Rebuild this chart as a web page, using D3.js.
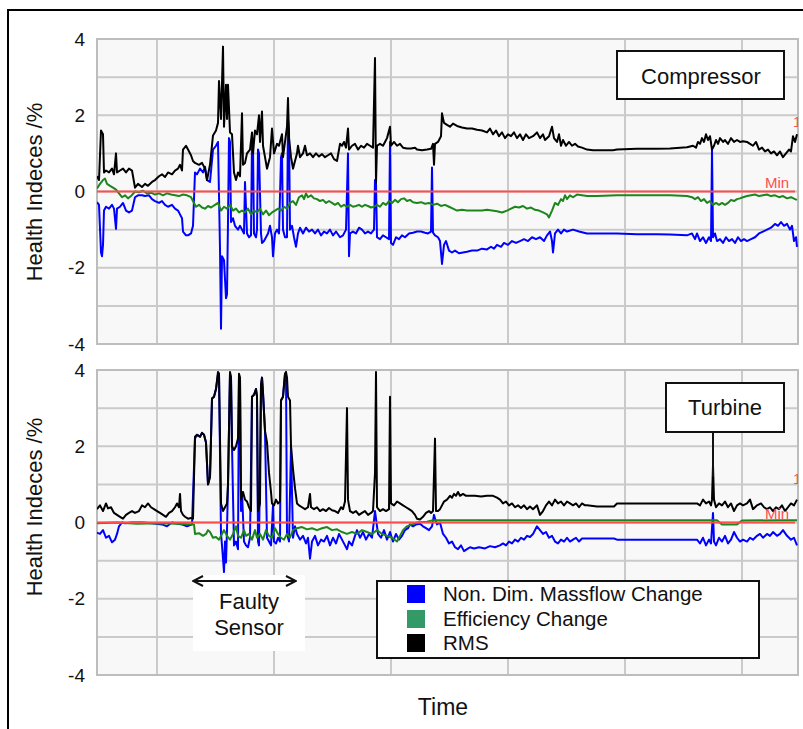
<!DOCTYPE html>
<html><head><meta charset="utf-8">
<script src="https://cdn.jsdelivr.net/npm/d3@7"></script>
<style>
html,body{margin:0;padding:0;background:#fff;}
svg{display:block;font-family:"Liberation Sans",Arial,sans-serif;}
</style></head>
<body><svg id="c" width="803" height="729"></svg>
<script>
// ---- data: [time sample, health index %] ----
const yTickValues = [-4, -2, 0, 2, 4];
const yGridValues = [-4, -3, -2, -1, 0, 1, 2, 3, 4];
const timeGrid = [60, 177, 294, 411, 528, 645];
const timeDomain = [0, 701];
const legendLabels = ["Non. Dim. Massflow Change", "Efficiency Change", "RMS"];
const panelTitles = ["Compressor", "Turbine"];

const compressorRMS = [[0,0.4],[2,0.3],[4,1.6],[5,1.55],[6,1.5],[7,0.5],[9,0.55],[12,0.5],[15,0.6],[17,0.45],[19,1.0],[20,0.5],[23,0.55],[26,0.6],[29,0.5],[32,0.6],[35,0.55],[38,0.1],[41,0.2],[45,0.12],[48,0.2],[51,0.15],[55,0.25],[58,0.3],[62,0.4],[65,0.45],[68,0.38],[71,0.5],[75,0.45],[78,0.55],[81,0.6],[83,0.7],[85,0.55],[86,1.1],[89,1.2],[91,1.1],[94,0.95],[96,0.8],[98,0.75],[102,0.7],[105,0.75],[108,0.6],[110,0.3],[113,0.7],[116,1.47],[119,1.6],[121,1.8],[122,2.9],[124,1.9],[126,3.8],[127,1.7],[129,2.8],[130,1.9],[131,2.8],[133,1.55],[135,1.5],[137,0.5],[139,0.3],[141,0.5],[143,0.4],[145,2.05],[146,0.7],[148,0.75],[150,1.0],[153,1.1],[155,1.55],[156,1.0],[158,1.6],[160,1.5],[162,2.0],[163,1.3],[165,2.1],[166,1.2],[168,0.9],[170,0.6],[173,0.9],[175,1.65],[177,1.0],[180,1.25],[182,1.2],[185,1.5],[186,0.9],[188,1.3],[190,1.7],[191,2.45],[192,1.4],[194,0.9],[196,0.6],[198,0.8],[200,1.0],[201,1.2],[203,0.9],[206,1.0],[208,1.2],[210,0.95],[213,1.0],[216,0.9],[219,1.0],[222,0.92],[225,0.98],[228,0.9],[231,0.95],[234,1.0],[237,0.85],[240,0.8],[243,1.25],[245,1.2],[247,1.3],[249,1.15],[251,1.65],[252,1.1],[255,1.2],[258,1.25],[261,1.1],[264,1.2],[267,1.15],[270,1.25],[273,1.2],[276,1.15],[278,3.5],[279,0.23],[280,1.2],[283,1.25],[286,1.2],[288,1.3],[290,1.4],[293,1.7],[294,1.2],[297,1.3],[300,1.2],[303,1.25],[306,1.15],[310,1.13],[314,1.13],[318,1.15],[320,1.1],[325,1.08],[330,1.1],[334,1.12],[336,1.25],[337,0.7],[338,1.25],[341,1.3],[344,1.45],[345,2.05],[347,1.8],[350,1.75],[353,1.7],[356,1.78],[360,1.72],[365,1.68],[370,1.65],[375,1.65],[380,1.62],[385,1.6],[390,1.55],[393,1.65],[396,1.5],[399,1.6],[402,1.45],[405,1.55],[408,1.4],[411,1.5],[414,1.45],[417,1.55],[420,1.4],[423,1.5],[426,1.35],[429,1.5],[432,1.4],[436,1.45],[440,1.55],[443,1.4],[446,1.5],[448,1.35],[452,1.45],[455,1.7],[457,1.4],[460,1.3],[462,1.5],[464,1.2],[466,1.35],[469,1.2],[472,1.3],[475,1.2],[478,1.25],[481,1.18],[485,1.15],[490,1.1],[496,1.08],[505,1.08],[516,1.08],[520,1.1],[540,1.12],[560,1.12],[573,1.13],[590,1.16],[596,1.2],[599,1.15],[601,1.3],[603,1.25],[605,1.4],[607,1.3],[609,1.5],[611,1.35],[613,1.45],[615,1.1],[617,1.2],[619,1.35],[621,1.25],[623,1.4],[626,1.3],[628,1.35],[631,1.25],[634,1.4],[637,1.3],[640,1.35],[643,1.3],[646,1.32],[650,1.3],[653,1.25],[656,1.2],[659,1.3],[662,1.1],[665,1.15],[668,1.05],[671,1.1],[674,1.0],[677,1.05],[680,0.95],[683,1.05],[686,0.9],[689,1.0],[692,1.1],[694,1.05],[696,1.45],[698,1.3],[700,1.5]];

const compressorMassflow = [[0,-0.28],[2,-0.35],[4,-1.6],[5,-1.7],[6,-1.4],[7,-0.5],[9,-0.4],[12,-0.45],[15,-0.35],[17,-0.45],[19,-0.98],[20,-0.45],[23,-0.4],[26,-0.3],[29,-0.5],[32,-0.55],[35,-0.5],[38,-0.15],[41,-0.1],[45,-0.1],[48,-0.12],[52,-0.1],[55,-0.2],[58,-0.25],[62,-0.3],[65,-0.25],[68,-0.35],[71,-0.4],[75,-0.35],[78,-0.45],[81,-0.5],[83,-0.6],[85,-0.7],[86,-1.05],[89,-1.15],[91,-1.15],[94,-1.1],[96,-0.9],[98,0.5],[100,0.45],[103,0.6],[106,0.5],[108,0.65],[110,0.3],[113,0.25],[116,1.1],[119,1.2],[121,1.3],[123,-1.5],[124,-3.6],[125,-1.7],[127,-1.8],[129,-2.8],[130,-2.7],[131,-0.8],[132,1.4],[133,1.3],[134,-0.8],[136,-0.7],[138,-0.9],[141,-1.0],[143,-0.9],[145,-1.0],[147,-1.1],[148,0.25],[150,-1.1],[152,-1.2],[154,-1.15],[155,1.3],[156,1.2],[157,-1.1],[159,-1.2],[160,-1.0],[161,1.1],[162,1.0],[164,-1.1],[165,-1.35],[167,-1.3],[169,-1.2],[171,-1.1],[173,-0.9],[175,-1.2],[176,-1.7],[178,-1.1],[180,-1.0],[182,-1.1],[184,0.9],[185,1.0],[186,-1.0],[188,-1.2],[190,-1.2],[191,1.9],[192,1.6],[193,-1.0],[195,-0.9],[197,-1.2],[199,-1.45],[201,-1.1],[203,-0.95],[206,-1.1],[209,-0.95],[212,-1.05],[215,-1.0],[218,-1.1],[221,-1.0],[224,-1.15],[227,-1.05],[230,-1.1],[233,-1.0],[236,-1.15],[239,-1.05],[243,-1.2],[246,-1.15],[249,-1.0],[251,1.0],[252,-1.7],[253,-1.1],[256,-1.05],[259,-1.1],[262,-0.95],[265,-1.0],[268,-1.1],[271,-1.05],[274,-1.1],[277,-1.0],[278,0.3],[279,0.2],[280,-1.2],[283,-1.25],[286,-1.15],[289,-1.2],[292,-1.25],[293,1.3],[294,-1.35],[296,-1.4],[299,-1.2],[302,-1.25],[305,-1.15],[308,-1.2],[312,-1.1],[316,-1.08],[320,-1.05],[324,-1.05],[328,-1.08],[331,-1.1],[334,-1.05],[335,0.63],[336,-1.08],[338,-1.15],[341,-1.2],[343,-1.3],[345,-1.9],[347,-1.4],[349,-1.3],[352,-1.55],[355,-1.6],[358,-1.55],[362,-1.62],[366,-1.6],[370,-1.58],[375,-1.55],[380,-1.55],[385,-1.5],[390,-1.52],[394,-1.45],[397,-1.5],[400,-1.4],[404,-1.45],[407,-1.35],[411,-1.4],[415,-1.3],[419,-1.35],[423,-1.3],[427,-1.25],[431,-1.3],[435,-1.2],[439,-1.25],[443,-1.2],[447,-1.3],[450,-1.15],[453,-1.05],[455,-1.3],[456,-1.6],[458,-1.1],[461,-1.0],[464,-1.1],[467,-1.0],[470,-1.05],[476,-1.0],[482,-1.05],[490,-1.1],[500,-1.1],[520,-1.1],[540,-1.12],[560,-1.12],[573,-1.13],[590,-1.15],[595,-1.1],[598,-1.25],[600,-1.1],[603,-1.3],[606,-1.2],[609,-1.35],[612,-1.2],[614,-1.3],[615,1.08],[616,-1.2],[618,-1.1],[620,-1.3],[623,-1.25],[626,-1.35],[629,-1.2],[632,-1.3],[635,-1.25],[638,-1.35],[641,-1.2],[644,-1.3],[647,-1.25],[650,-1.3],[654,-1.25],[658,-1.2],[662,-1.1],[666,-1.05],[670,-1.0],[674,-0.95],[678,-0.85],[681,-0.9],[684,-0.8],[687,-0.9],[690,-0.85],[693,-1.0],[695,-0.9],[697,-1.3],[699,-1.2],[700,-1.45]];

const compressorEfficiency = [[0,0.08],[3,0.2],[6,0.3],[8,0.34],[10,0.2],[13,0.15],[16,0.1],[19,0.05],[22,-0.05],[25,-0.15],[28,-0.1],[31,-0.18],[34,-0.12],[38,0.0],[42,-0.02],[46,0.02],[50,-0.05],[54,-0.03],[58,-0.08],[62,-0.05],[66,-0.1],[70,-0.05],[74,-0.08],[78,-0.1],[82,-0.12],[86,-0.08],[90,-0.1],[94,-0.15],[97,-0.3],[99,-0.4],[102,-0.35],[105,-0.42],[108,-0.45],[111,-0.38],[114,-0.42],[118,-0.35],[121,-0.3],[124,-0.5],[127,-0.4],[130,-0.45],[133,-0.35],[136,-0.5],[139,-0.45],[142,-0.55],[145,-0.5],[148,-0.55],[151,-0.45],[154,-0.6],[157,-0.5],[160,-0.55],[163,-0.45],[166,-0.6],[169,-0.5],[172,-0.62],[175,-0.55],[178,-0.5],[181,-0.45],[184,-0.5],[187,-0.4],[190,-0.45],[193,-0.3],[196,-0.25],[199,-0.35],[202,-0.15],[205,-0.1],[207,-0.2],[209,-0.05],[211,-0.15],[214,-0.1],[217,-0.18],[220,-0.2],[223,-0.25],[226,-0.22],[229,-0.3],[232,-0.25],[235,-0.3],[238,-0.35],[241,-0.3],[244,-0.4],[247,-0.35],[250,-0.4],[253,-0.35],[256,-0.4],[259,-0.38],[262,-0.35],[265,-0.4],[268,-0.35],[271,-0.38],[274,-0.42],[277,-0.4],[280,-0.35],[283,-0.4],[286,-0.3],[289,-0.35],[292,-0.25],[295,-0.3],[298,-0.22],[301,-0.28],[304,-0.2],[307,-0.18],[310,-0.25],[313,-0.22],[316,-0.28],[320,-0.3],[324,-0.28],[328,-0.32],[332,-0.3],[336,-0.35],[340,-0.32],[344,-0.38],[348,-0.35],[352,-0.4],[356,-0.45],[360,-0.5],[365,-0.48],[370,-0.5],[375,-0.5],[380,-0.5],[385,-0.5],[390,-0.48],[395,-0.5],[400,-0.52],[405,-0.55],[410,-0.5],[414,-0.45],[418,-0.4],[422,-0.42],[426,-0.38],[430,-0.45],[434,-0.42],[438,-0.48],[442,-0.5],[446,-0.55],[450,-0.6],[452,-0.68],[455,-0.5],[458,-0.3],[461,-0.35],[464,-0.2],[466,-0.25],[468,-0.1],[470,-0.2],[473,-0.1],[476,-0.15],[480,-0.08],[485,-0.1],[490,-0.12],[500,-0.12],[520,-0.1],[540,-0.1],[560,-0.1],[573,-0.1],[590,-0.12],[595,-0.15],[598,-0.2],[601,-0.15],[604,-0.25],[607,-0.2],[610,-0.3],[613,-0.25],[616,-0.35],[619,-0.3],[622,-0.35],[625,-0.3],[628,-0.35],[631,-0.3],[634,-0.22],[637,-0.25],[640,-0.2],[643,-0.18],[646,-0.15],[650,-0.12],[654,-0.1],[658,-0.08],[662,-0.12],[666,-0.1],[670,-0.08],[674,-0.12],[678,-0.1],[682,-0.15],[686,-0.12],[690,-0.18],[694,-0.15],[698,-0.2],[700,-0.22]];

const turbineRMS = [[0,0.35],[3,0.45],[6,0.3],[9,0.5],[11,0.37],[14,0.4],[17,0.25],[20,0.2],[23,0.15],[26,0.1],[29,0.2],[32,0.25],[35,0.3],[38,0.25],[42,0.3],[45,0.45],[48,0.4],[51,0.5],[54,0.4],[57,0.35],[60,0.3],[63,0.25],[66,0.2],[69,0.15],[72,0.25],[75,0.3],[78,0.4],[80,0.5],[82,0.4],[83,0.75],[84,0.3],[86,0.2],[88,0.15],[91,0.1],[94,0.12],[96,0.1],[98,2.25],[100,2.3],[103,2.25],[105,2.35],[107,2.3],[109,2.1],[111,1.0],[113,1.2],[114,2.2],[115,3.25],[117,3.3],[119,3.5],[121,3.95],[122,3.9],[124,0.5],[126,0.3],[128,0.4],[130,0.5],[131,1.0],[133,3.95],[134,3.8],[135,2.0],[137,1.9],[139,2.0],[141,2.2],[142,3.9],[143,3.8],[144,0.6],[146,0.8],[148,0.6],[150,0.55],[152,0.4],[154,0.3],[155,3.3],[157,3.35],[159,3.5],[160,3.3],[161,0.3],[163,0.5],[164,3.6],[165,3.8],[166,3.4],[168,2.4],[170,2.1],[172,1.3],[174,0.8],[175,0.5],[177,0.45],[179,0.6],[181,0.5],[183,0.55],[184,3.2],[186,3.3],[188,3.9],[189,3.95],[190,3.8],[191,3.3],[193,3.2],[194,2.0],[196,1.4],[198,0.9],[200,0.5],[202,0.45],[205,0.4],[208,0.35],[211,0.4],[213,0.75],[214,0.4],[217,0.35],[220,0.4],[223,0.3],[226,0.35],[229,0.3],[232,0.38],[235,0.32],[238,0.3],[241,0.25],[244,0.4],[246,0.35],[248,0.55],[250,3.0],[251,0.6],[253,0.3],[256,0.25],[259,0.3],[262,0.2],[265,0.25],[268,0.3],[271,0.2],[274,0.25],[276,0.3],[278,1.3],[279,3.95],[280,0.4],[283,0.3],[286,0.35],[289,0.3],[292,0.35],[293,3.3],[294,0.5],[297,0.45],[300,0.55],[303,0.5],[306,0.45],[309,0.4],[312,0.35],[315,0.3],[318,0.2],[320,0.1],[323,0.08],[326,0.15],[329,0.25],[332,0.3],[334,0.25],[336,0.3],[338,2.2],[339,0.3],[341,0.3],[343,0.35],[345,0.45],[347,0.55],[350,0.6],[353,0.7],[355,0.65],[357,0.75],[359,0.7],[361,0.8],[363,0.7],[366,0.75],[369,0.7],[373,0.7],[378,0.7],[384,0.68],[390,0.7],[396,0.7],[400,0.65],[403,0.6],[406,0.5],[409,0.55],[412,0.45],[415,0.5],[418,0.4],[421,0.45],[424,0.38],[427,0.45],[430,0.35],[433,0.42],[436,0.35],[440,0.45],[443,0.2],[446,0.3],[449,0.45],[452,0.55],[455,0.45],[458,0.6],[461,0.5],[464,0.55],[467,0.45],[470,0.55],[473,0.5],[476,0.45],[479,0.5],[482,0.4],[485,0.5],[488,0.45],[490,0.45],[500,0.42],[510,0.42],[517,0.42],[520,0.5],[540,0.5],[560,0.5],[573,0.5],[600,0.5],[603,0.45],[606,0.6],[609,0.5],[612,0.55],[614,0.45],[615,0.6],[616,1.5],[617,0.6],[619,0.4],[622,0.5],[625,0.45],[628,0.55],[631,0.4],[634,0.5],[637,0.3],[640,0.45],[643,0.5],[646,0.45],[650,0.5],[653,0.6],[656,0.35],[660,0.45],[664,0.5],[667,0.4],[670,0.35],[673,0.4],[676,0.3],[679,0.4],[682,0.35],[685,0.45],[688,0.3],[691,0.4],[694,0.5],[697,0.45],[700,0.6]];

const turbineMassflow = [[0,-0.27],[3,-0.3],[6,-0.2],[9,-0.4],[12,-0.35],[15,-0.52],[18,-0.45],[20,-0.3],[22,-0.1],[25,0.0],[28,-0.02],[35,0.0],[45,0.0],[55,-0.02],[65,-0.05],[70,-0.1],[75,0.0],[85,-0.05],[90,-0.1],[95,-0.05],[98,2.2],[100,2.3],[103,2.25],[105,2.35],[107,2.3],[109,2.1],[111,1.0],[113,1.2],[114,2.2],[115,3.25],[117,3.3],[119,3.5],[121,3.9],[122,3.9],[124,-0.3],[125,-0.6],[127,-1.3],[128,-0.5],[129,-1.05],[130,-0.2],[131,1.0],[133,3.9],[134,3.8],[135,2.0],[137,-0.6],[139,-0.5],[141,-0.7],[142,3.8],[143,3.8],[144,0.3],[145,0.8],[147,-0.5],[149,-0.6],[151,-0.65],[153,-0.4],[155,3.3],[157,3.35],[159,3.5],[160,3.3],[161,-0.5],[162,-0.6],[164,3.6],[165,3.8],[166,3.4],[168,2.4],[170,-0.4],[172,-0.5],[174,-0.6],[176,0.45],[177,-0.5],[179,-0.55],[181,-0.4],[183,-0.5],[184,3.2],[186,3.3],[188,3.9],[189,3.9],[190,-0.3],[192,-0.5],[194,2.0],[196,-0.4],[198,-0.1],[200,-0.3],[203,-0.45],[206,-0.35],[209,-0.55],[211,-0.4],[213,-0.95],[215,-0.5],[218,-0.35],[221,-0.6],[224,-0.45],[227,-0.5],[230,-0.35],[233,-0.6],[236,-0.4],[239,-0.55],[242,-0.3],[245,-0.45],[248,-0.6],[250,-0.7],[252,-0.5],[255,-0.6],[258,-0.35],[260,-0.2],[263,-0.4],[266,-0.25],[269,-0.45],[272,-0.3],[275,-0.4],[278,0.3],[279,0.1],[281,-0.3],[284,-0.4],[287,-0.2],[290,-0.45],[293,-0.25],[296,-0.5],[299,-0.3],[302,-0.45],[305,-0.35],[308,-0.2],[311,-0.15],[313,-0.05],[316,-0.1],[319,-0.05],[323,-0.03],[326,-0.1],[329,-0.15],[332,-0.2],[335,-0.1],[337,0.2],[338,0.1],[340,-0.05],[343,0.0],[346,-0.3],[349,-0.4],[352,-0.55],[355,-0.5],[358,-0.65],[361,-0.7],[364,-0.6],[367,-0.75],[370,-0.7],[373,-0.65],[377,-0.68],[382,-0.65],[388,-0.68],[393,-0.62],[398,-0.65],[403,-0.6],[406,-0.55],[409,-0.6],[412,-0.5],[415,-0.55],[418,-0.45],[421,-0.5],[424,-0.4],[427,-0.45],[430,-0.35],[433,-0.38],[436,-0.3],[440,-0.1],[443,-0.2],[446,-0.3],[449,-0.25],[452,-0.4],[455,-0.35],[458,-0.5],[461,-0.55],[464,-0.45],[467,-0.5],[470,-0.4],[473,-0.5],[476,-0.45],[479,-0.4],[482,-0.5],[485,-0.42],[490,-0.42],[500,-0.42],[517,-0.42],[520,-0.45],[540,-0.45],[560,-0.45],[570,-0.45],[573,-0.45],[600,-0.45],[603,-0.55],[606,-0.4],[609,-0.6],[612,-0.45],[614,-0.55],[616,0.25],[617,-0.5],[619,-0.6],[622,-0.4],[625,-0.5],[628,-0.35],[631,-0.55],[634,-0.45],[637,-0.25],[640,-0.4],[643,-0.5],[646,-0.45],[650,-0.5],[653,-0.4],[656,-0.45],[660,-0.35],[663,-0.3],[666,-0.4],[670,-0.3],[673,-0.35],[676,-0.25],[680,-0.35],[683,-0.3],[686,-0.2],[690,-0.35],[694,-0.45],[697,-0.4],[700,-0.6]];

const turbineEfficiency = [[0,-0.02],[20,0.0],[40,-0.03],[60,-0.02],[80,-0.03],[97,-0.05],[98,-0.3],[102,-0.28],[106,-0.35],[109,-0.3],[111,-0.2],[113,-0.25],[116,-0.4],[119,-0.38],[122,-0.45],[125,-0.3],[127,-0.2],[130,-0.35],[133,-0.45],[136,-0.3],[139,-0.1],[141,-0.35],[144,-0.4],[147,-0.2],[149,-0.35],[152,-0.3],[155,-0.45],[158,-0.2],[160,-0.4],[163,-0.3],[166,-0.45],[169,-0.2],[172,-0.35],[175,-0.4],[178,-0.15],[181,-0.3],[184,-0.4],[187,-0.45],[190,-0.3],[193,-0.4],[196,-0.2],[200,-0.15],[205,-0.12],[210,-0.18],[215,-0.15],[220,-0.2],[225,-0.15],[230,-0.12],[235,-0.2],[240,-0.18],[245,-0.25],[250,-0.3],[255,-0.25],[260,-0.3],[265,-0.2],[270,-0.25],[275,-0.3],[280,-0.2],[285,-0.3],[290,-0.35],[295,-0.4],[300,-0.5],[303,-0.35],[306,-0.2],[310,-0.1],[315,-0.05],[320,0.0],[330,0.02],[335,0.05],[340,0.06],[360,0.06],[400,0.06],[440,0.06],[480,0.06],[520,0.06],[560,0.06],[600,0.06],[620,0.06],[625,-0.05],[640,-0.05],[645,0.05],[680,0.06],[700,0.06]];

const minLevel = 0;

// ---- styles ----
const colMass = "#0000ff", colEff = "#1c861c", colRMS = "#000000", colMin = "#ff4d4d";
const legendColors = ["#0000ff", "#339966", "#000000"];

const svg = d3.select("#c");
// outer frame
svg.append("rect").attr("x", 8).attr("y", 10).attr("width", 900).attr("height", 900)
  .attr("fill", "none").attr("stroke", "#000").attr("stroke-width", 2);

const x = d3.scaleLinear().domain(timeDomain).range([97, 798]);

const panels = [
  {top: 39, bottom: 344, series: [compressorRMS, compressorEfficiency, compressorMassflow], title: panelTitles[0], labelY: 192},
  {top: 370, bottom: 675, series: [turbineRMS, turbineEfficiency, turbineMassflow], title: panelTitles[1], labelY: 507}
];

panels.forEach((p, i) => {
  const y = d3.scaleLinear().domain([-4, 4]).range([p.bottom, p.top]);
  const g = svg.append("g");
  const cid = "clip" + i;
  svg.append("clipPath").attr("id", cid).append("rect")
    .attr("x", x.range()[0]).attr("y", p.top).attr("width", x.range()[1] - x.range()[0]).attr("height", p.bottom - p.top);
  g.append("rect").attr("x", x.range()[0]).attr("y", p.top)
    .attr("width", x.range()[1] - x.range()[0]).attr("height", p.bottom - p.top)
    .attr("fill", "#f8f8f8");
  // grid
  g.selectAll(".hg").data(yGridValues).join("line")
    .attr("x1", x.range()[0]).attr("x2", x.range()[1])
    .attr("y1", d => y(d)).attr("y2", d => y(d))
    .attr("stroke", "#cacaca").attr("stroke-width", 2);
  g.selectAll(".vg").data(timeGrid).join("line")
    .attr("x1", d => x(d)).attr("x2", d => x(d))
    .attr("y1", p.top).attr("y2", p.bottom)
    .attr("stroke", "#cacaca").attr("stroke-width", 2);
  g.append("rect").attr("x", x.range()[0]).attr("y", p.top)
    .attr("width", x.range()[1] - x.range()[0]).attr("height", p.bottom - p.top)
    .attr("fill", "none").attr("stroke", "#bdbdbd").attr("stroke-width", 2);

  // axis labels
  const ax = g.append("g").attr("transform", `translate(${x.range()[0]},0)`)
    .call(d3.axisLeft(y).tickValues(yTickValues).tickSize(0).tickPadding(12).tickFormat(d => String(d)));
  ax.select(".domain").remove();
  ax.selectAll("text").attr("font-size", 19).attr("fill", "#111")
    .attr("font-family", "'Liberation Sans', Arial, sans-serif");

  g.append("text").attr("transform", `translate(42,${p.labelY}) rotate(-90)`)
    .attr("text-anchor", "middle").attr("font-size", 22).attr("fill", "#111")
    .text("Health Indeces /%");

  const plot = g.append("g").attr("clip-path", `url(#${cid})`);
  const line = d3.line().x(d => x(d[0])).y(d => y(d[1]));
  const [rms, eff, mass] = p.series;
  plot.append("path").datum(mass).attr("d", line).attr("fill", "none")
    .attr("stroke", colMass).attr("stroke-width", 2).attr("stroke-linejoin", "round");
  plot.append("path").datum(eff).attr("d", line).attr("fill", "none")
    .attr("stroke", colEff).attr("stroke-width", 2).attr("stroke-linejoin", "round");
  plot.append("line").attr("x1", x(0)).attr("x2", x(timeDomain[1] - 3))
    .attr("y1", y(minLevel)).attr("y2", y(minLevel))
    .attr("stroke", colMin).attr("stroke-width", 2);
  plot.append("path").datum(rms).attr("d", line).attr("fill", "none")
    .attr("stroke", colRMS).attr("stroke-width", 2).attr("stroke-linejoin", "round");

  // red min labels (partly clipped)
  plot.append("text").attr("x", x(668)).attr("y", y(minLevel) - 4)
    .attr("font-size", 15).attr("fill", colMin).text("Min");
  plot.append("text").attr("x", x(696)).attr("y", y(i === 0 ? 1.7 : 1.0))
    .attr("font-size", 15).attr("fill", colMin).text("1");
  p.y = y;
});

// Compressor title box
svg.append("rect").attr("x", 617).attr("y", 51).attr("width", 167).attr("height", 48)
  .attr("fill", "#fff").attr("stroke", "#111").attr("stroke-width", 2);
svg.append("text").attr("x", 701).attr("y", 84).attr("text-anchor", "middle")
  .attr("font-size", 22).attr("fill", "#111").text(panelTitles[0]);

// Turbine title box with pointer
const yT = panels[1].y;
svg.append("line").attr("x1", x(616)).attr("x2", x(616)).attr("y1", 432).attr("y2", yT(1.2))
  .attr("stroke", "#111").attr("stroke-width", 2);
svg.append("rect").attr("x", 666).attr("y", 383).attr("width", 118).attr("height", 49)
  .attr("fill", "#fff").attr("stroke", "#111").attr("stroke-width", 2);
svg.append("text").attr("x", 725).attr("y", 415).attr("text-anchor", "middle")
  .attr("font-size", 22).attr("fill", "#111").text(panelTitles[1]);

// Faulty sensor annotation
svg.append("rect").attr("x", 193).attr("y", 575).attr("width", 112).attr("height", 76).attr("fill", "#fff");
svg.append("defs").html(
  '<marker id="ah" viewBox="0 0 12 12" refX="11" refY="6" markerWidth="12" markerHeight="12" markerUnits="userSpaceOnUse" orient="auto-start-reverse"><path d="M1,1 L11,6 L1,11" fill="none" stroke="#111" stroke-width="2"/></marker>');
svg.append("line").attr("x1", x(96)).attr("x2", x(199)).attr("y1", 581).attr("y2", 581)
  .attr("stroke", "#111").attr("stroke-width", 2)
  .attr("marker-start", "url(#ah)").attr("marker-end", "url(#ah)");
svg.append("text").attr("x", 249).attr("y", 609).attr("text-anchor", "middle")
  .attr("font-size", 22).attr("fill", "#111").text("Faulty");
svg.append("text").attr("x", 249).attr("y", 635).attr("text-anchor", "middle")
  .attr("font-size", 22).attr("fill", "#111").text("Sensor");

// Legend
const lg = svg.append("g");
lg.append("rect").attr("x", 377).attr("y", 581).attr("width", 382).attr("height", 77)
  .attr("fill", "#fff").attr("stroke", "#111").attr("stroke-width", 2);
const rowY = [594, 619, 643];
legendLabels.forEach((lab, k) => {
  lg.append("rect").attr("x", 407).attr("y", rowY[k] - 9).attr("width", 18).attr("height", 18)
    .attr("fill", legendColors[k]);
  lg.append("text").attr("x", 443).attr("y", rowY[k] + 7).attr("font-size", 20.5)
    .attr("fill", "#111").text(lab);
});

// x axis title
svg.append("text").attr("x", 443).attr("y", 715).attr("text-anchor", "middle")
  .attr("font-size", 23).attr("fill", "#111").text("Time");
</script></body></html>
